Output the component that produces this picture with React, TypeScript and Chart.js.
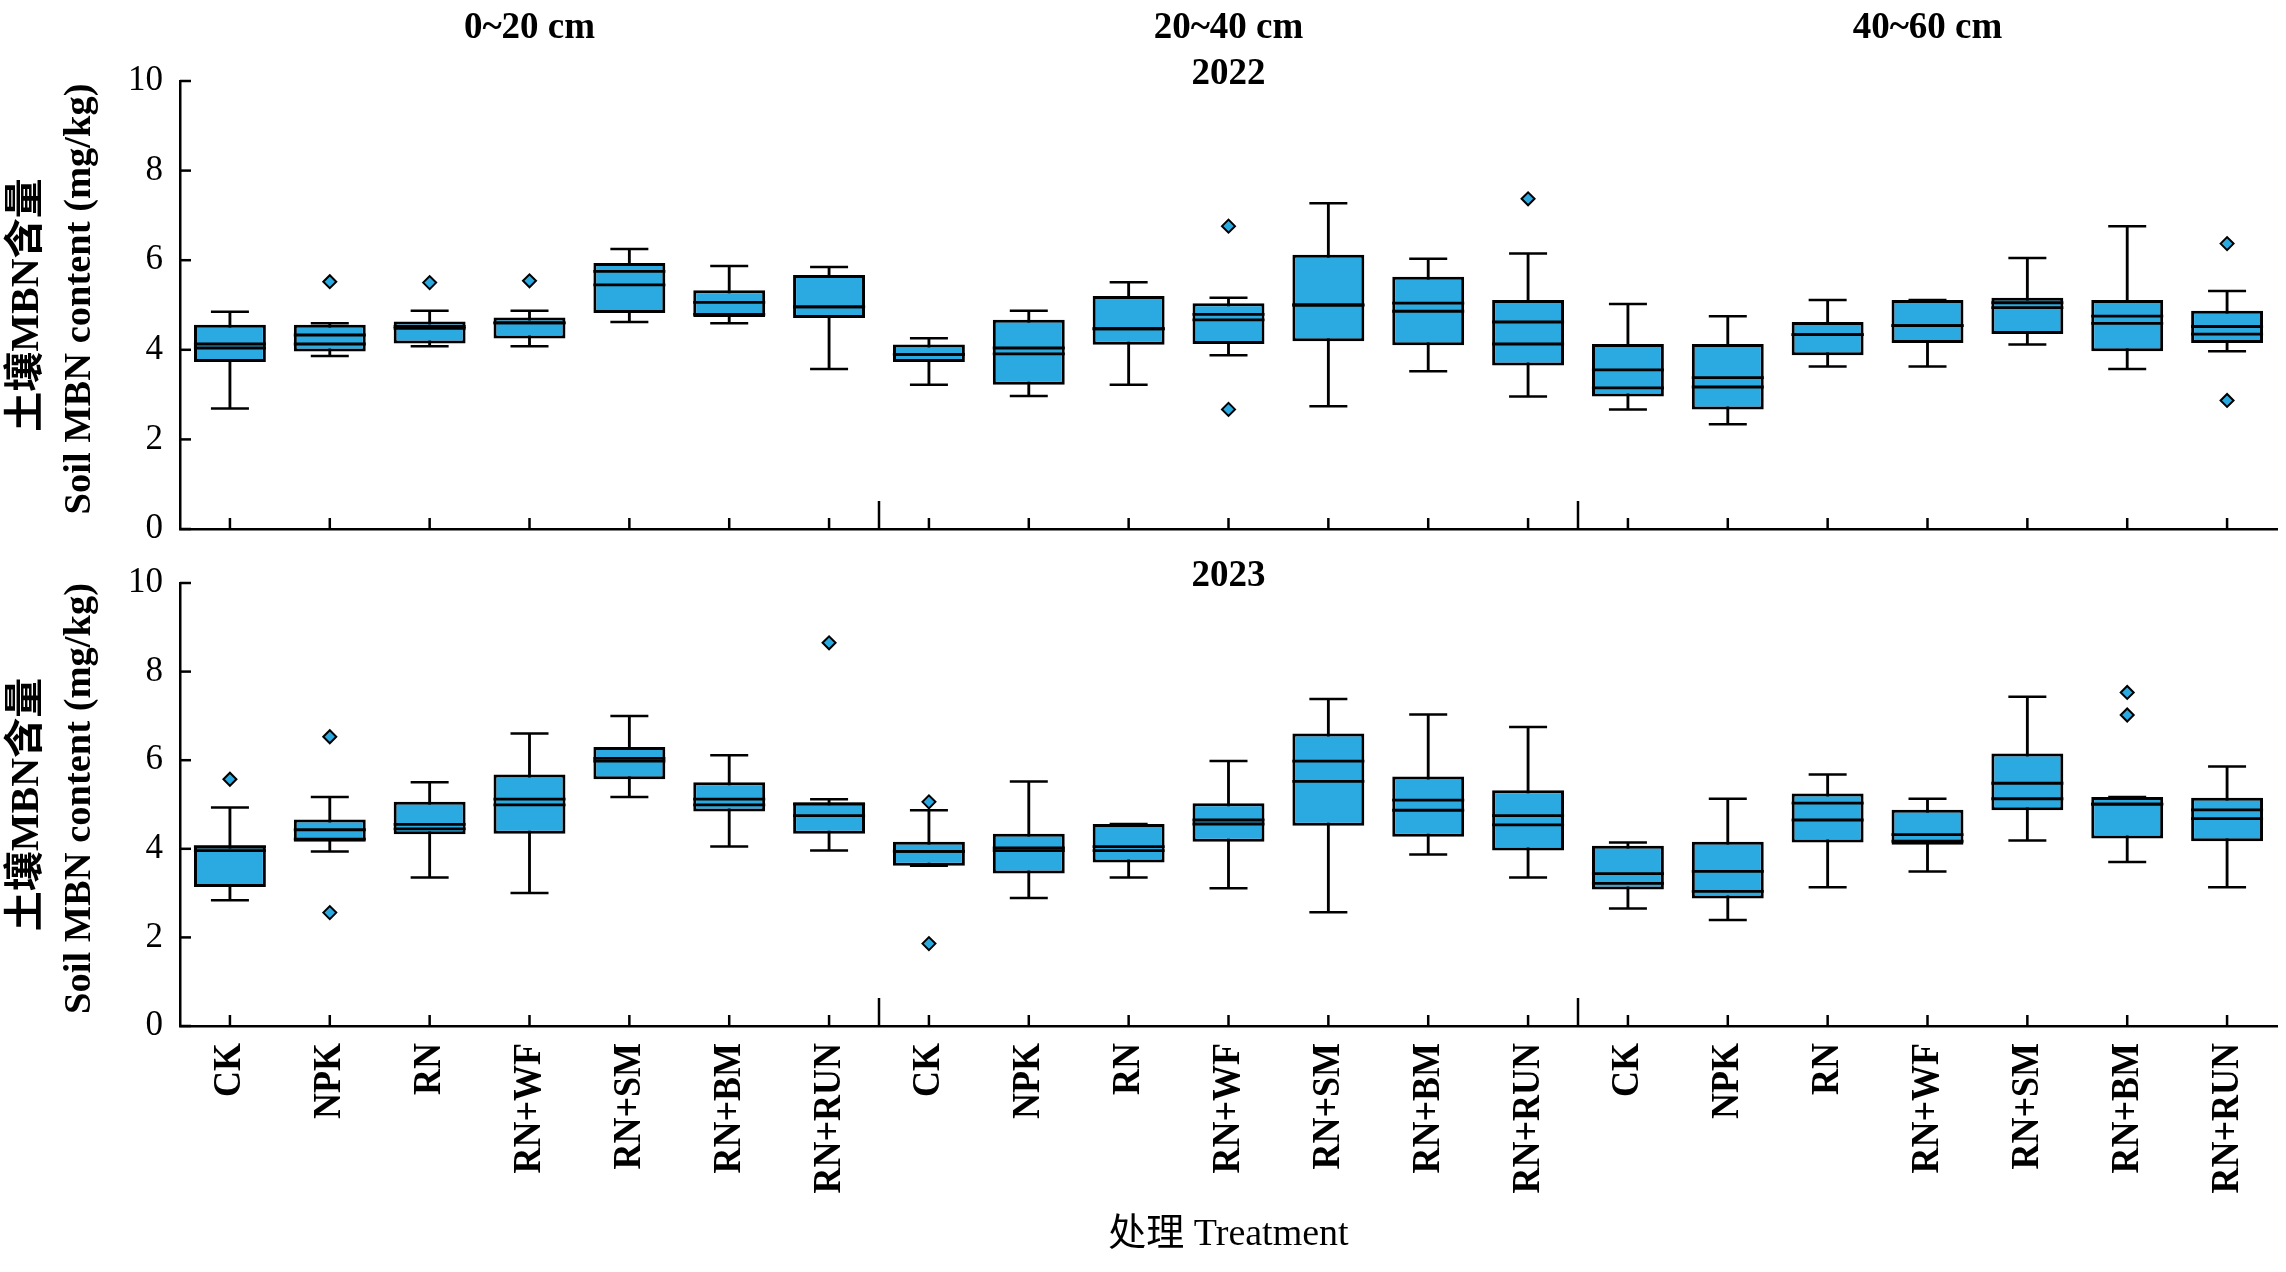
import React, { useEffect, useRef } from "react";
import { Chart, registerables } from "chart.js";

Chart.register(...registerables);

const treatments = ["CK", "NPK", "RN", "RN+WF", "RN+SM", "RN+BM", "RN+RUN"];
const depths = ["0~20 cm", "20~40 cm", "40~60 cm"];
const yTicks = [0, 2, 4, 6, 8, 10];
const yTitleCn = "土壤MBN含量";
const yTitleEn = "Soil MBN content (mg/kg)";
const xTitle = "处理 Treatment";

// 21 boxes per year: 0~20 cm (7 treatments), 20~40 cm, 40~60 cm
const low2022 = [2.69, 3.86, 4.08, 4.08, 4.62, 4.59, 3.57, 3.22, 2.97, 3.22, 3.88, 2.74, 3.52, 2.96, 2.67, 2.34, 3.63, 3.63, 4.12, 3.57, 3.97];
const q1_2022 = [3.73, 3.96, 4.14, 4.25, 4.82, 4.73, 4.71, 3.73, 3.22, 4.11, 4.13, 4.19, 4.10, 3.65, 2.96, 2.67, 3.88, 4.15, 4.35, 3.97, 4.15];
const median2022 = [4.04, 4.13, 4.48, 4.60, 5.45, 4.79, 4.96, 3.90, 3.91, 4.47, 4.67, 5.00, 4.86, 4.13, 3.15, 3.17, 4.34, 4.54, 4.94, 4.59, 4.35];
const mean2022 = [4.13, 4.33, 4.52, 4.60, 5.75, 5.06, 4.96, 3.90, 4.04, 4.47, 4.79, 5.00, 5.04, 4.62, 3.55, 3.38, 4.34, 4.54, 5.05, 4.75, 4.52];
const q3_2022 = [4.56, 4.56, 4.63, 4.72, 5.94, 5.33, 5.67, 4.12, 4.67, 5.20, 5.04, 6.12, 5.63, 5.11, 4.13, 4.13, 4.62, 5.11, 5.16, 5.11, 4.87];
const high2022 = [4.85, 4.59, 4.87, 4.87, 6.25, 5.87, 5.85, 4.26, 4.87, 5.51, 5.16, 7.27, 6.03, 6.15, 5.02, 4.75, 5.11, 5.11, 6.05, 6.76, 5.31];
const outliers2022: [number, number][] = [[1, 5.52], [2, 5.5], [3, 5.54], [10, 6.76], [10, 2.67], [13, 7.37], [20, 6.37], [20, 2.87]];

const low2023 = [2.84, 3.94, 3.35, 3.0, 5.17, 4.05, 3.96, 3.62, 2.89, 3.35, 3.11, 2.57, 3.87, 3.35, 2.65, 2.39, 3.13, 3.49, 4.19, 3.7, 3.13];
const q1_2023 = [3.14, 4.16, 4.33, 4.34, 5.57, 4.84, 4.34, 3.62, 3.44, 3.69, 4.16, 4.52, 4.27, 3.96, 3.08, 2.88, 4.14, 4.09, 4.87, 4.23, 4.17];
const median2023 = [3.96, 4.22, 4.45, 4.99, 5.98, 4.99, 4.75, 3.94, 3.96, 3.96, 4.56, 5.52, 4.87, 4.54, 3.22, 3.04, 4.65, 4.17, 5.13, 5.01, 4.68];
const mean2023 = [4.05, 4.43, 4.55, 5.12, 6.04, 5.12, 5.01, 3.94, 4.02, 4.05, 4.65, 5.98, 5.1, 4.75, 3.44, 3.49, 5.03, 4.32, 5.48, 5.01, 4.88];
const q3_2023 = [4.07, 4.66, 5.06, 5.68, 6.3, 5.5, 5.05, 4.16, 4.34, 4.56, 5.03, 6.6, 5.63, 5.32, 4.07, 4.16, 5.25, 4.88, 6.15, 5.17, 5.15];
const high2023 = [4.93, 5.17, 5.5, 6.6, 7.0, 6.11, 5.12, 4.87, 5.52, 4.56, 5.98, 7.38, 7.03, 6.75, 4.14, 5.13, 5.68, 5.13, 7.43, 5.17, 5.86];
const outliers2023: [number, number][] = [[0, 5.57], [1, 6.53], [1, 2.56], [6, 8.65], [7, 5.06], [7, 1.86], [19, 7.53], [19, 7.02]];

const labels = depths.flatMap((d) => treatments.map((t) => `${d}|${t}`));

const W = 2286;
const BOX = "#2AAAE1";
const SERIF = '"Liberation Serif", "Times New Roman", serif';
const CJK = '"Noto Sans CJK SC"';

type PanelProps = {
  year: string;
  low: number[];
  q1: number[];
  median: number[];
  mean: number[];
  q3: number[];
  high: number[];
  outliers: [number, number][];
  top: number;
  height: number;
  padTop: number;
  axisHeight: number;
  showXLabels: boolean;
  showDepths: boolean;
  showXTitle: boolean;
};

function BoxPanel(p: PanelProps) {
  const ref = useRef<HTMLCanvasElement>(null);
  useEffect(() => {
    const canvas = ref.current!;
    const decor = {
      id: "decor",
      afterDraw(chart: any) {
        const ctx = chart.ctx as CanvasRenderingContext2D;
        const xs = chart.scales.x;
        const ys = chart.scales.y;
        const a = chart.chartArea;
        const seg = (x1: number, y1: number, x2: number, y2: number) => {
          ctx.beginPath();
          ctx.moveTo(x1, y1);
          ctx.lineTo(x2, y2);
          ctx.stroke();
        };
        ctx.save();
        ctx.strokeStyle = "#000";
        ctx.lineWidth = 2.5;
        for (let i = 0; i < xs.ticks.length; i++) {
          const px = xs.getPixelForTick(i);
          seg(px, a.bottom, px, a.bottom - 11);
        }
        for (let g = 1; g < depths.length; g++) {
          const px = (xs.getPixelForTick(g * treatments.length - 1) + xs.getPixelForTick(g * treatments.length)) / 2;
          seg(px, a.bottom, px, a.bottom - 28);
        }
        for (let i = 0; i < ys.ticks.length; i++) {
          const py = ys.getPixelForTick(i);
          seg(a.left, py, a.left + 11, py);
        }
        ctx.fillStyle = "#000";
        ctx.textAlign = "center";
        ctx.textBaseline = "middle";
        const cx = (a.left + a.right) / 2;
        ctx.font = `bold 37px ${SERIF}`;
        ctx.fillText(p.year, cx, a.top - 7);
        if (p.showDepths) {
          depths.forEach((d, g) => {
            const x0 = xs.getPixelForTick(g * treatments.length);
            const x1 = xs.getPixelForTick(g * treatments.length + treatments.length - 1);
            ctx.fillText(d, (x0 + x1) / 2, 28);
          });
        }
        const cy = (a.top + a.bottom) / 2;
        ctx.save();
        ctx.translate(28, cy);
        ctx.rotate(-Math.PI / 2);
        ctx.font = `bold 40px ${SERIF}, ${CJK}`;
        ctx.fillText(yTitleCn, 0, 0);
        ctx.restore();
        ctx.save();
        ctx.translate(80, cy - 6);
        ctx.rotate(-Math.PI / 2);
        ctx.font = `bold 38.5px ${SERIF}`;
        ctx.fillText(yTitleEn, 0, 0);
        ctx.restore();
        if (p.showXLabels) {
          ctx.font = `bold 36px ${SERIF}`;
          ctx.textAlign = "right";
          for (let i = 0; i < xs.ticks.length; i++) {
            const px = xs.getPixelForTick(i);
            ctx.save();
            ctx.translate(px, a.bottom + 17);
            ctx.rotate(-Math.PI / 2);
            ctx.scale(1, 1.13);
            ctx.fillText(treatments[i % treatments.length], 0, 0);
            ctx.restore();
          }
          ctx.textAlign = "center";
        }
        if (p.showXTitle) {
          ctx.font = `38px ${SERIF}, ${CJK}`;
          ctx.fillText(xTitle, cx, 1235 - p.top);
        }
        ctx.restore();
      },
    };

    const pts = (data: number[], r: number, bw: number, order: number) => ({
      type: "line" as const,
      data,
      showLine: false,
      pointStyle: "line" as const,
      pointRadius: r,
      pointHoverRadius: r,
      pointBorderWidth: bw,
      pointBorderColor: "#000",
      borderColor: "#000",
      order,
    });

    const chart = new Chart(canvas, {
      type: "bar",
      data: {
        labels,
        datasets: [
          {
            type: "bar",
            data: p.low.map((v, i) => [v, p.high[i]]),
            backgroundColor: "#000",
            borderWidth: 0,
            barThickness: 2.2,
            grouped: false,
            order: 6,
          } as any,
          {
            type: "bar",
            data: p.q1.map((v, i) => [v, p.q3[i]]),
            backgroundColor: BOX,
            borderColor: "#000",
            borderWidth: 3,
            borderSkipped: false,
            barPercentage: 0.72,
            categoryPercentage: 1,
            grouped: false,
            order: 5,
          } as any,
          pts(p.low, 19, 2.5, 3),
          pts(p.high, 19, 2.5, 3),
          pts(p.median, 36, 2.8, 2),
          pts(p.mean, 36, 2.8, 2),
          {
            type: "line",
            data: p.outliers.map(([i, v]) => ({ x: labels[i], y: v })),
            showLine: false,
            pointStyle: "rectRot",
            pointRadius: 6.5,
            pointHoverRadius: 6.5,
            pointBackgroundColor: BOX,
            pointBorderColor: "#000",
            pointBorderWidth: 2,
            order: 0,
          } as any,
        ],
      },
      options: {
        animation: false,
        responsive: false,
        devicePixelRatio: 1,
        events: [],
        layout: { autoPadding: false, padding: { top: p.padTop, right: 9, left: 0, bottom: 0 } },
        plugins: { legend: { display: false }, tooltip: { enabled: false } },
        scales: {
          x: {
            type: "category",
            offset: true,
            grid: { display: false, drawTicks: false },
            border: { display: true, color: "#000", width: 2.5 },
            ticks: { display: false, autoSkip: false },
            afterFit: (s: any) => {
              s.height = p.axisHeight;
            },
          },
          y: {
            min: yTicks[0],
            max: yTicks[yTicks.length - 1],
            grid: { display: false, drawTicks: false },
            border: { display: true, color: "#000", width: 2.5 },
            afterBuildTicks: (s: any) => {
              s.ticks = yTicks.map((v) => ({ value: v }));
            },
            ticks: {
              padding: 17,
              color: "#000",
              font: { family: SERIF, size: 35 },
            },
            afterFit: (s: any) => {
              s.width = 180;
            },
          },
        },
      },
      plugins: [decor],
    } as any);
    return () => chart.destroy();
  }, []);
  return (
    <canvas
      ref={ref}
      width={W}
      height={p.height}
      style={{ position: "absolute", left: 0, top: p.top, width: W, height: p.height, display: "block" }}
    />
  );
}

export default function App() {
  return (
    <div style={{ position: "absolute", left: 0, top: 0, width: W, height: 1272, background: "#fff" }}>
      <BoxPanel
        year="2023"
        low={low2023}
        q1={q1_2023}
        median={median2023}
        mean={mean2023}
        q3={q3_2023}
        high={high2023}
        outliers={outliers2023}
        top={545}
        height={727}
        padTop={36}
        axisHeight={246}
        showXLabels={true}
        showDepths={false}
        showXTitle={true}
      />
      <BoxPanel
        year="2022"
        low={low2022}
        q1={q1_2022}
        median={median2022}
        mean={mean2022}
        q3={q3_2022}
        high={high2022}
        outliers={outliers2022}
        top={0}
        height={600}
        padTop={81}
        axisHeight={71}
        showXLabels={false}
        showDepths={true}
        showXTitle={false}
      />
    </div>
  );
}
